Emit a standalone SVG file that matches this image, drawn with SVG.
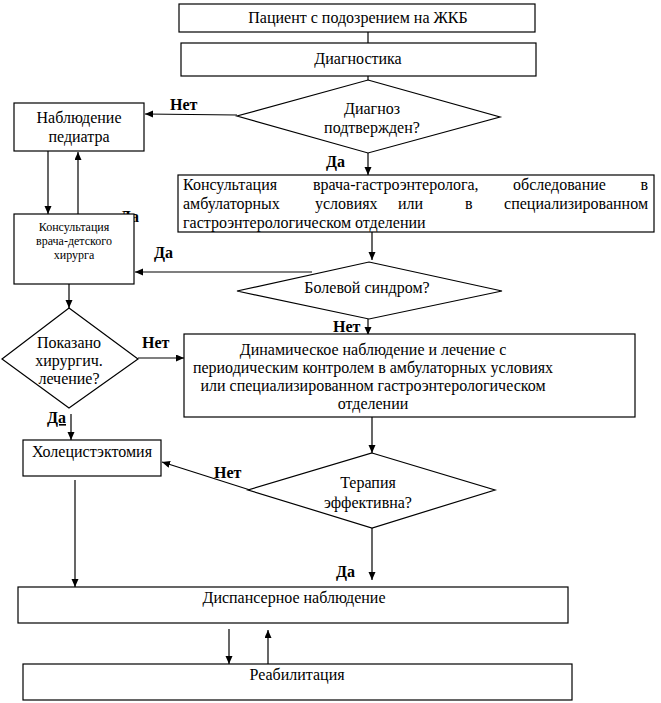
<svg xmlns="http://www.w3.org/2000/svg" width="661" height="703" viewBox="0 0 661 703">
<style>
text{font-family:'Liberation Serif','Times New Roman',Times,Tinos,'Noto Serif','Nimbus Roman','FreeSerif','DejaVu Serif',serif}
.box{fill:#fff;stroke:#000;stroke-width:1.2}
.t{font-size:16px;fill:#000}
.c{text-anchor:middle}
.s{font-size:12px}
.lb{font-size:16px;font-weight:bold;fill:#000}
.ln{stroke:#000;stroke-width:1.2;fill:none}
.ar{stroke:#000;stroke-width:1.2;fill:none;marker-end:url(#ah)}
</style>
<defs>
<marker id="ah" markerUnits="userSpaceOnUse" markerWidth="9" markerHeight="8" refX="8" refY="3.5" orient="auto">
<path d="M0,0 L8,3.5 L0,7 z" fill="#000"/>
</marker>
</defs>
<rect width="661" height="703" fill="#fff"/>

<g id="connectors">
<line class="ln" x1="368" y1="32" x2="368" y2="43"/>
<line class="ln" x1="368" y1="76" x2="368" y2="80"/>
<line class="ar" x1="237" y1="115" x2="145" y2="114"/>
<line class="ar" x1="368" y1="153" x2="368" y2="175"/>
<line class="ar" x1="48" y1="151" x2="48" y2="214"/>
<line class="ar" x1="78" y1="214" x2="78" y2="152"/>
<line class="ar" x1="372" y1="232" x2="372" y2="260"/>
<line class="ar" x1="312" y1="272" x2="135" y2="272"/>
<line class="ar" x1="69" y1="284" x2="69" y2="308"/>
<line class="ar" x1="368" y1="319" x2="368" y2="335"/>
<line class="ar" x1="138" y1="358" x2="184" y2="358"/>
<line class="ar" x1="71" y1="414" x2="71" y2="440"/>
<line class="ar" x1="372" y1="417" x2="372" y2="453"/>
<line class="ar" x1="250" y1="490" x2="162" y2="462"/>
<line class="ar" x1="372" y1="528" x2="372" y2="580"/>
<line class="ar" x1="75" y1="480" x2="75" y2="587"/>
<line class="ar" x1="229" y1="629" x2="229" y2="664"/>
<line class="ar" x1="268" y1="664" x2="268" y2="630"/>
</g>

<g id="labels">
<text class="lb" x="170" y="110">Нет</text>
<text class="lb" x="326" y="167">Да</text>
<text class="lb" x="139" y="222" text-anchor="end">Да</text>
<text class="lb" x="154" y="258">Да</text>
<text class="lb" x="333" y="332">Нет</text>
<text class="lb" x="142" y="348">Нет</text>
<text class="lb" x="47" y="423" text-decoration="underline">Да</text>
<text class="lb" x="214" y="478">Нет</text>
<text class="lb" x="336" y="577">Да</text>
</g>

<g id="n-patient">
<rect class="box" x="179" y="4" width="356" height="28"/>
<text class="t c" x="358" y="23">Пациент с подозрением на ЖКБ</text>
</g>

<g id="n-diag">
<rect class="box" x="181" y="43" width="355" height="33"/>
<text class="t c" x="358" y="64">Диагностика</text>
</g>

<g id="n-confirmed">
<polygon class="box" points="368,80 500,117 368,153 237,116"/>
<text class="t c" x="372" y="114">Диагноз</text>
<text class="t c" x="372" y="133">подтвержден?</text>
</g>

<g id="n-pediatr">
<rect class="box" x="14" y="103" width="130" height="48"/>
<text class="t c" x="79" y="123">Наблюдение</text>
<text class="t c" x="79" y="142">педиатра</text>
</g>

<g id="n-surgeon">
<rect class="box" x="14" y="214" width="120" height="70"/>
<text class="t c s" x="74" y="231">Консультация</text>
<text class="t c s" x="74" y="245">врача-детского</text>
<text class="t c s" x="74" y="259">хирурга</text>
</g>

<g id="n-gastro">
<rect class="box" x="178" y="175" width="476" height="57"/>
<text class="t" x="183" y="190">Консультация</text>
<text class="t" x="313" y="190">врача-гастроэнтеролога,</text>
<text class="t" x="513" y="190">обследование</text>
<text class="t" x="648" y="190" text-anchor="end">в</text>
<text class="t" x="183" y="209">амбулаторных</text>
<text class="t" x="315" y="209">условиях</text>
<text class="t" x="398" y="209">или</text>
<text class="t" x="465" y="209">в</text>
<text class="t" x="648" y="209" text-anchor="end">специализированном</text>
<text class="t" x="183" y="228">гастроэнтерологическом отделении</text>
</g>

<g id="n-pain">
<polygon class="box" points="369,262 502,291 369,319 237,291"/>
<text class="t c" x="367" y="293">Болевой синдром?</text>
</g>

<g id="n-surgery-q">
<polygon class="box" points="69,308 138,359 69,408 2,359"/>
<text class="t c" x="69" y="348">Показано</text>
<text class="t c" x="69" y="366">хирургич.</text>
<text class="t c" x="69" y="384">лечение?</text>
</g>

<g id="n-dynamic">
<rect class="box" x="184" y="334" width="451" height="83"/>
<text class="t c" x="373" y="355">Динамическое наблюдение и лечение с</text>
<text class="t c" x="373" y="373">периодическим контролем в амбулаторных условиях</text>
<text class="t c" x="373" y="391">или специализированном гастроэнтерологическом</text>
<text class="t c" x="373" y="409">отделении</text>
</g>

<g id="n-chole">
<rect class="box" x="23" y="440" width="138" height="36"/>
<text class="t c" x="92" y="457">Холецистэктомия</text>
</g>

<g id="n-therapy">
<polygon class="box" points="372,453 495,490 372,528 248,490"/>
<text class="t c" x="368" y="488">Терапия</text>
<text class="t c" x="368" y="508">эффективна?</text>
</g>

<g id="n-disp">
<rect class="box" x="18" y="587" width="550" height="36"/>
<text class="t c" x="294" y="603">Диспансерное наблюдение</text>
</g>

<g id="n-rehab">
<rect class="box" x="23" y="664" width="549" height="36"/>
<text class="t c" x="297" y="680">Реабилитация</text>
</g>
</svg>
